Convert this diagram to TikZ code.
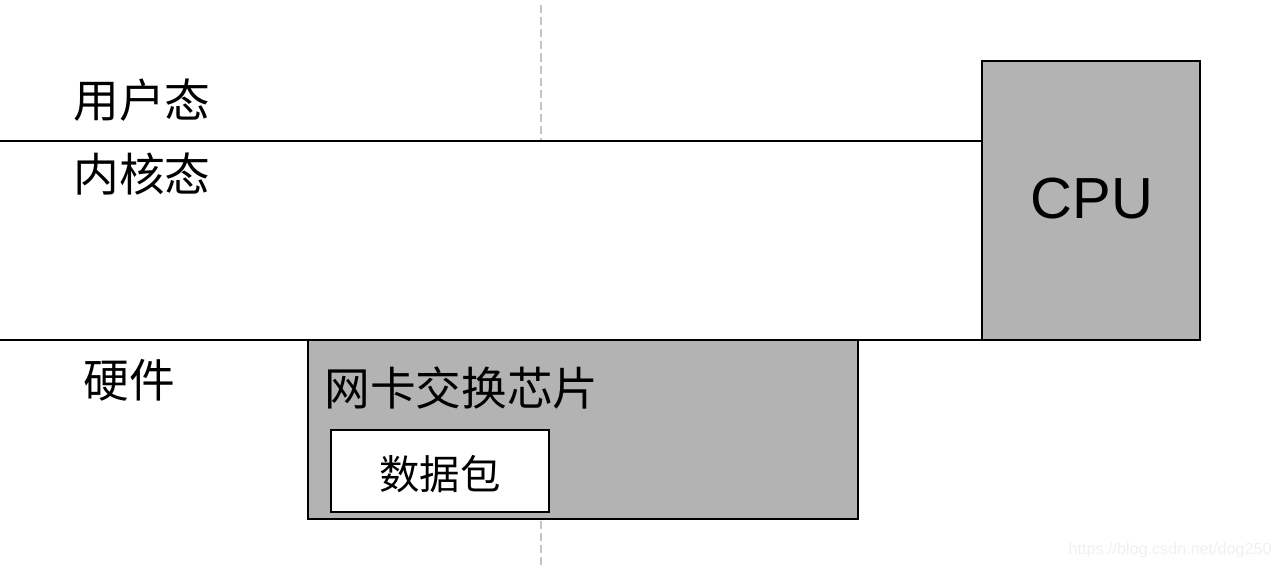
\documentclass[tikz,border=0pt]{standalone}
\usepackage{fontspec}
\setmainfont{Liberation Sans}
\newfontfamily\cjk{Noto Sans CJK SC}
\definecolor{boxgray}{HTML}{B3B3B3}
\definecolor{dashgray}{HTML}{C4C4C4}
\definecolor{wmgray}{HTML}{F0F0F0}
\begin{document}
\begin{tikzpicture}[x=0.02cm,y=-0.02cm,
  box/.style={draw=black,line width=1.1pt,inner sep=0pt,outer sep=0pt},
  lbl/.style={inner sep=0pt,font=\cjk\fontsize{26pt}{28pt}\selectfont},
  sep/.style={line width=1.1pt},
  vdash/.style={dashgray,line width=1.3pt,dash pattern=on 4.6pt off 2.3pt}]
\useasboundingbox (0,0) rectangle (1282,568);
% dashed divider
\coordinate (dtop) at (541,5);
\coordinate (dmid) at (541,140);
\coordinate (dlow) at (541,521);
\coordinate (dbot) at (541,566);
\draw[vdash] (dtop) -- (dmid);
\draw[vdash] (dlow) -- (dbot);
% CPU
\node[box,fill=boxgray,minimum width=218*0.02cm,minimum height=279*0.02cm,anchor=north west] (cpu) at (982,61) {};
\node[inner sep=0pt,font=\fontsize{33pt}{36pt}\selectfont] (cputxt) at (1092,199) {CPU};
% separators
\coordinate (l1) at (0,141);
\coordinate (l2) at (0,340);
\draw[sep] (l1) -- (l1 -| cpu.west);
\draw[sep] (l2) -- (l2 -| cpu.west);
% NIC
\node[box,fill=boxgray,minimum width=550*0.02cm,minimum height=179*0.02cm,anchor=north west] (nic) at (308,340) {};
\node[lbl,anchor=west] (nictxt) at (324,388) {网卡交换芯片};
\node[box,fill=white,minimum width=218*0.02cm,minimum height=82*0.02cm,anchor=north west] (pkt) at (331,430) {};
\node[lbl,font=\cjk\fontsize{23pt}{25pt}\selectfont] (pkttxt) at (440,474) {数据包};
% labels
\node[lbl] (user) at (142,100) {用户态};
\node[lbl] (kern) at (142,174) {内核态};
\node[lbl] (hw) at (129,380) {硬件};
% watermark
\node[inner sep=0pt,anchor=east,text=wmgray,font=\fontsize{9.2pt}{10pt}\selectfont] (wm) at (1272,550) {https://blog.csdn.net/dog250};
\end{tikzpicture}
\end{document}
